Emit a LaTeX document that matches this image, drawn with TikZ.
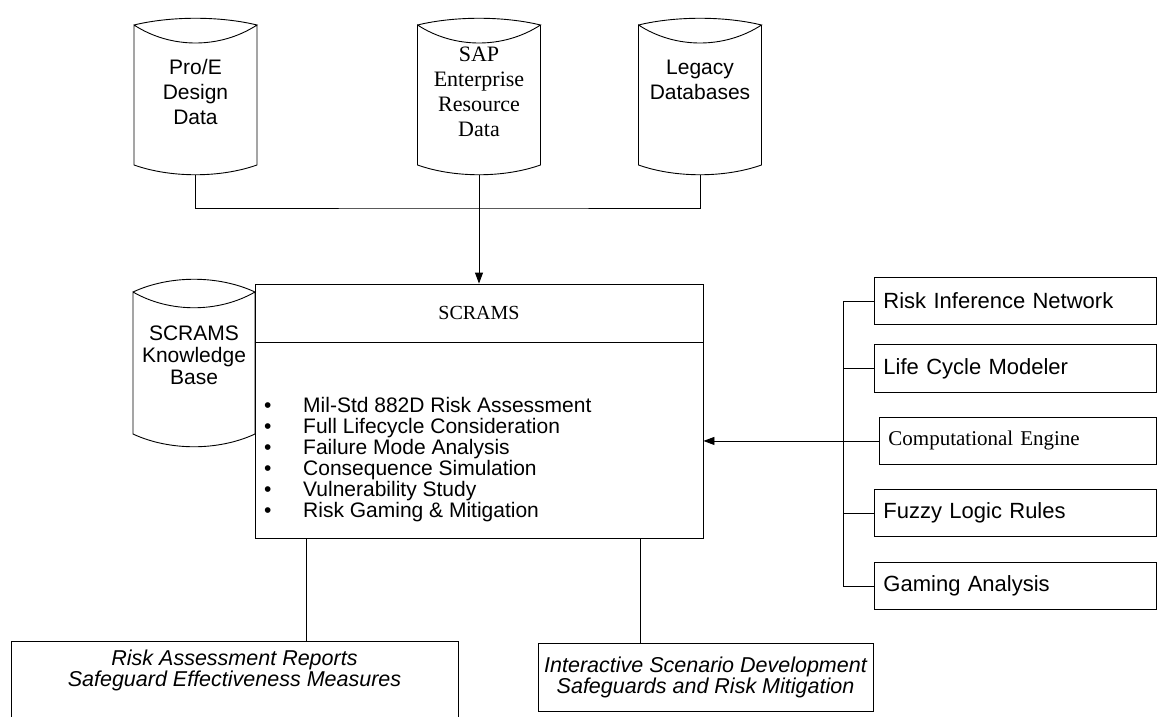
\documentclass[tikz,border=0pt]{standalone}
\usepackage{fontspec}
\setmainfont{Liberation Sans}
\newfontfamily\tms{Liberation Serif}
\usetikzlibrary{arrows.meta,calc}
\tikzset{
  ln/.style={line width=0.9pt, draw=black},
  arr/.style={ln, -{Triangle[length=11pt,width=8pt]}},
  cyltext/.style={inner sep=0pt, align=center, font=\fontsize{21}{25}\selectfont},
  sidebox/.style={ln, anchor=north west, minimum height=47pt, text width=264pt,
     align=left, inner xsep=9pt, inner ysep=0pt, font=\fontsize{22}{26}\selectfont},
  outbox/.style={ln, inner sep=0pt, align=center, font=\fontsize{21.5}{21}\selectfont\itshape},
  bullet/.style={anchor=base west, inner sep=0pt, font=\fontsize{21}{21}\selectfont},
}
% #1 name, #2 half width, #3 up to side top, #4 down to side bottom,
% #5 top bulge ctrl, #6 lens ctrl, #7 bottom ctrl
\newcommand\drawcyl[7]{%
  \coordinate (#1-nw) at ($(#1.center)+(-#2,-#3)$);
  \coordinate (#1-ne) at ($(#1.center)+(#2,-#3)$);
  \coordinate (#1-sw) at ($(#1.center)+(-#2,#4)$);
  \coordinate (#1-se) at ($(#1.center)+(#2,#4)$);
  \coordinate (#1-b) at ($(#1.center)+(0,#4+0.75*#7)$);
  \draw[ln] (#1-nw) .. controls ($(#1-nw)+(0.6*#2,-#5)$) and ($(#1-ne)+(-0.6*#2,-#5)$) .. (#1-ne)
    .. controls ($(#1-ne)+(-0.6*#2,#6)$) and ($(#1-nw)+(0.6*#2,#6)$) .. (#1-nw)
    -- (#1-sw) .. controls ($(#1-sw)+(0.6*#2,#7)$) and ($(#1-se)+(-0.6*#2,#7)$) .. (#1-se)
    -- (#1-ne);
}
\begin{document}
\begin{tikzpicture}[x=1pt,y=-1pt]
\useasboundingbox (0,0) rectangle (1158,716);

% top data sources
\node[cyltext] (proe) at (195.5,92) {Pro/E\\Design\\Data};
\drawcyl{proe}{61.5}{67}{73}{9}{24}{13}
\node[cyltext, font=\tms\fontsize{22}{25}\selectfont] (sap) at (479,92) {SAP\\Enterprise\\Resource\\Data};
\drawcyl{sap}{61.5}{67}{73}{9}{24}{13}
\node[cyltext] (legacy) at (700,80) {Legacy\\Databases};
\drawcyl{legacy}{61.5}{55}{85}{9}{24}{13}

% knowledge base
\node[cyltext, font=\fontsize{21}{22}\selectfont] (kb) at (194,355) {SCRAMS\\Knowledge\\Base};
\drawcyl{kb}{61}{63}{79}{17}{21}{17}

% SCRAMS box
\node[ln, minimum width=448pt, minimum height=254pt, inner sep=0pt] (scrams) at (479,411) {};
\node[inner sep=0pt, font=\tms\fontsize{20}{20}\selectfont] (title) at (479,313) {SCRAMS};
\draw[ln] (scrams.west |- 0,342) -- (scrams.east |- 0,342);
\foreach \t [count=\i] in {Mil-Std 882D Risk Assessment, Full Lifecycle Consideration,
   Failure Mode Analysis, Consequence Simulation, Vulnerability Study, Risk Gaming \& Mitigation}
  \node[bullet] (item\i) at (264,{412+21*(\i-1)}) {\makebox[39pt][l]{\textbullet}\t};

% connectors from sources
\coordinate (join) at (479,208);
\draw[ln] (proe-b) |- (join) -| (legacy-b);
\draw[arr] (sap-b) -- (sap-b |- scrams.north);

% right-hand modules
\node[sidebox] (rin) at (874,277) {Risk Inference Network};
\node[sidebox, minimum height=48pt] (lcm) at (874,344) {Life Cycle Modeler};
\node[sidebox, text width=259pt, font=\tms\fontsize{21}{25}\selectfont] (comp) at (879,417) {Computational Engine};
\node[sidebox] (flr) at (874,489) {Fuzzy Logic Rules};
\node[sidebox] (gam) at (874,562) {Gaming Analysis};
\coordinate (busx) at (843,0);
\draw[ln] (rin.west) -- (rin.west -| busx) -- (gam.west -| busx) -- (gam.west);
\draw[ln] (lcm.west) -- (lcm.west -| busx);
\draw[ln] (flr.west) -- (flr.west -| busx);
\draw[arr] (comp.west) -- (comp.west -| scrams.east);

% outputs
\node[outbox, minimum width=447pt, minimum height=78pt] (outl) at (234.5,680)
  {Risk Assessment Reports\\Safeguard Effectiveness Measures\\[3pt]};
\node[outbox, minimum width=335pt, minimum height=68pt] (outr) at (705.5,677)
  {Interactive Scenario Development\\Safeguards and Risk Mitigation};
\coordinate (dl) at (306,0);
\coordinate (dr) at (640,0);
\draw[ln] (scrams.south -| dl) -- (outl.north -| dl);
\draw[ln] (scrams.south -| dr) -- (outr.north -| dr);
\end{tikzpicture}
\end{document}
